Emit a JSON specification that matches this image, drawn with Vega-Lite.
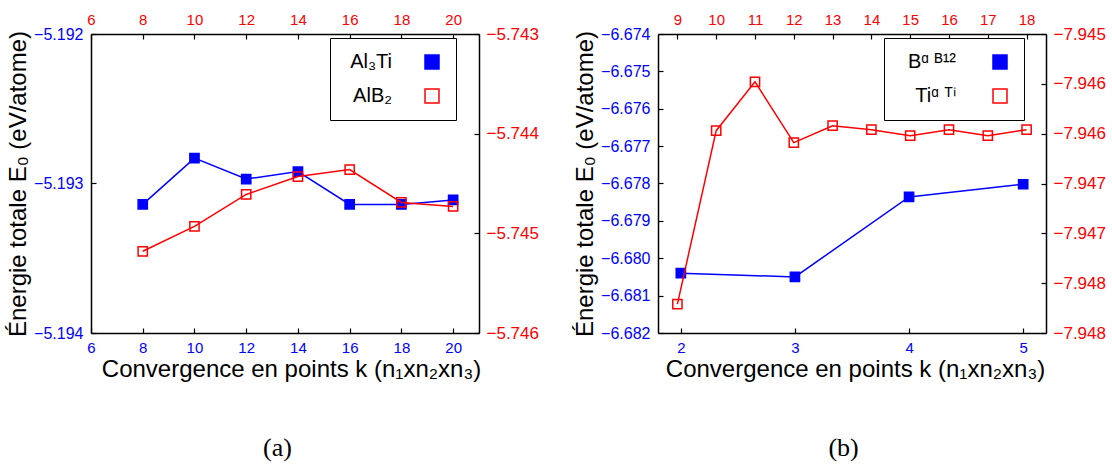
{
  "$schema": "https://vega.github.io/schema/vega-lite/v6.json",
  "padding": {"left": 6, "top": 12, "right": 5, "bottom": 5},
  "background": "white",
  "config": {
    "font": "Liberation Sans",
    "view": {"stroke": null},
    "axis": {
      "grid": false,
      "domainColor": "black",
      "domainWidth": 1.5,
      "tickColor": "black",
      "tickWidth": 1.2,
      "tickSize": -5,
      "labelPadding": 13,
      "labelFont": "Liberation Sans",
      "labelFlush": false,
      "labelOverlap": false,
      "titleColor": "black",
      "titleFont": "Liberation Sans",
      "titleFontWeight": "normal",
      "titleFontSize": 24
    },
    "legend": {
      "orient": "none",
      "labelFontSize": 20,
      "labelColor": "black",
      "labelFont": "Liberation Sans",
      "labelAlign": "right",
      "symbolType": "square",
      "symbolSize": 196,
      "symbolStrokeWidth": 1.5,
      "strokeColor": "black",
      "fillColor": "white",
      "padding": 14,
      "rowPadding": 14,
      "titleOrient": "right",
      "titleFontSize": 20,
      "titlePadding": 0
    },
    "concat": {"spacing": 34}
  },
  "datasets": {
    "a": [
      {"s": "Al₃Ti", "k": 8, "e": -5.19314},
      {"s": "Al₃Ti", "k": 10, "e": -5.19283},
      {"s": "Al₃Ti", "k": 12, "e": -5.19297},
      {"s": "Al₃Ti", "k": 14, "e": -5.19292},
      {"s": "Al₃Ti", "k": 16, "e": -5.19314},
      {"s": "Al₃Ti", "k": 18, "e": -5.19314},
      {"s": "Al₃Ti", "k": 20, "e": -5.19311},
      {"s": "AlB₂", "k": 8, "e": -5.74518},
      {"s": "AlB₂", "k": 10, "e": -5.74493},
      {"s": "AlB₂", "k": 12, "e": -5.74461},
      {"s": "AlB₂", "k": 14, "e": -5.74443},
      {"s": "AlB₂", "k": 16, "e": -5.74436},
      {"s": "AlB₂", "k": 18, "e": -5.74469},
      {"s": "AlB₂", "k": 20, "e": -5.74473}
    ],
    "b": [
      {"s": "Bᵅ ᴮ¹²", "k": 2, "e": -6.6804},
      {"s": "Bᵅ ᴮ¹²", "k": 3, "e": -6.6805},
      {"s": "Bᵅ ᴮ¹²", "k": 4, "e": -6.67836},
      {"s": "Bᵅ ᴮ¹²", "k": 5, "e": -6.67802},
      {"s": "Tiᵅ ᵀⁱ", "k": 9, "e": -7.94771},
      {"s": "Tiᵅ ᵀⁱ", "k": 10, "e": -7.94597},
      {"s": "Tiᵅ ᵀⁱ", "k": 11, "e": -7.94548},
      {"s": "Tiᵅ ᵀⁱ", "k": 12, "e": -7.94609},
      {"s": "Tiᵅ ᵀⁱ", "k": 13, "e": -7.94592},
      {"s": "Tiᵅ ᵀⁱ", "k": 14, "e": -7.94596},
      {"s": "Tiᵅ ᵀⁱ", "k": 15, "e": -7.94602},
      {"s": "Tiᵅ ᵀⁱ", "k": 16, "e": -7.94596},
      {"s": "Tiᵅ ᵀⁱ", "k": 17, "e": -7.94602},
      {"s": "Tiᵅ ᵀⁱ", "k": 18, "e": -7.94596}
    ]
  },
  "hconcat": [
    {
      "width": 388,
      "height": 299,
      "title": {"text": "(a)", "orient": "bottom", "font": "Liberation Serif", "fontSize": 26, "fontWeight": "normal", "color": "black", "offset": 54, "anchor": "middle", "frame": "bounds", "dx": 5},
      "layer": [
        {
          "data": {"name": "a"},
          "transform": [{"filter": "datum.s === 'Al₃Ti'"}],
          "encoding": {
            "x": {"field": "k", "type": "quantitative", "scale": {"domain": [6, 21], "nice": false, "zero": false},
              "axis": {"orient": "bottom", "values": [6, 8, 10, 12, 14, 16, 18, 20], "labelColor": "blue", "labelFontSize": 15, "labelPadding": 12,
                "title": "Convergence en points k (n₁xn₂xn₃)", "titleX": 200, "titlePadding": 2}},
            "y": {"field": "e", "type": "quantitative", "scale": {"domain": [-5.194, -5.192], "nice": false, "zero": false},
              "axis": {"orient": "left", "values": [-5.194, -5.193, -5.192], "format": ".3f", "labelColor": "blue", "labelFontSize": 16,
                "title": "Énergie totale E₀ (eV/atome)", "titlePadding": 3}}
          },
          "layer": [
            {"mark": {"type": "line", "color": "blue", "strokeWidth": 1.5}},
            {"mark": {"type": "point", "shape": "square", "size": 85, "filled": true, "strokeWidth": 1.5, "opacity": 1},
              "encoding": {
                "fill": {"field": "s", "type": "nominal", "scale": {"domain": ["Al₃Ti", "AlB₂"], "range": ["blue", "transparent"]},
                  "legend": {"legendX": 239, "legendY": 4, "title": "\u2003", "labelOffset": -50, "symbolOffset": 78}},
                "stroke": {"field": "s", "type": "nominal", "scale": {"domain": ["Al₃Ti", "AlB₂"], "range": ["blue", "red"]},
                  "legend": {"legendX": 239, "legendY": 4, "title": "\u2003", "labelOffset": -50, "symbolOffset": 78}}
              }}
          ]
        },
        {
          "data": {"name": "a"},
          "transform": [{"filter": "datum.s === 'AlB₂'"}],
          "encoding": {
            "x": {"field": "k", "type": "quantitative", "scale": {"domain": [6, 21], "nice": false, "zero": false},
              "axis": {"orient": "top", "values": [6, 8, 10, 12, 14, 16, 18, 20], "labelColor": "red", "labelFontSize": 15, "labelPadding": 12, "title": null}},
            "y": {"field": "e", "type": "quantitative", "scale": {"domain": [-5.746, -5.743], "nice": false, "zero": false},
              "axis": {"orient": "right", "values": [-5.746, -5.745, -5.744, -5.743], "format": ".3f", "labelColor": "red", "labelFontSize": 17, "labelPadding": 12, "title": null}}
          },
          "layer": [
            {"mark": {"type": "line", "color": "red", "strokeWidth": 1.5}},
            {"mark": {"type": "point", "shape": "square", "size": 85, "filled": true, "strokeWidth": 1.5, "opacity": 1},
              "encoding": {
                "fill": {"field": "s", "type": "nominal"},
                "stroke": {"field": "s", "type": "nominal"}
              }}
          ]
        }
      ],
      "resolve": {"scale": {"x": "independent", "y": "independent"}}
    },
    {
      "width": 388,
      "height": 299,
      "title": {"text": "(b)", "orient": "bottom", "font": "Liberation Serif", "fontSize": 26, "fontWeight": "normal", "color": "black", "offset": 54, "anchor": "middle", "frame": "bounds", "dx": 4},
      "layer": [
        {
          "data": {"name": "b"},
          "transform": [{"filter": "datum.s === 'Bᵅ ᴮ¹²'"}],
          "encoding": {
            "x": {"field": "k", "type": "quantitative", "scale": {"domain": [1.8, 5.2], "nice": false, "zero": false},
              "axis": {"orient": "bottom", "values": [2, 3, 4, 5], "labelColor": "blue", "labelFontSize": 15, "labelPadding": 12,
                "title": "Convergence en points k (n₁xn₂xn₃)", "titleX": 197, "titlePadding": 2}},
            "y": {"field": "e", "type": "quantitative", "scale": {"domain": [-6.682, -6.674], "nice": false, "zero": false},
              "axis": {"orient": "left", "values": [-6.682, -6.681, -6.68, -6.679, -6.678, -6.677, -6.676, -6.675, -6.674], "format": ".3f", "labelColor": "blue", "labelFontSize": 16,
                "title": "Énergie totale E₀ (eV/atome)", "titlePadding": 3}}
          },
          "layer": [
            {"mark": {"type": "line", "color": "blue", "strokeWidth": 1.5}},
            {"mark": {"type": "point", "shape": "square", "size": 85, "filled": true, "strokeWidth": 1.5, "opacity": 1},
              "encoding": {
                "fill": {"field": "s", "type": "nominal", "scale": {"domain": ["Bᵅ ᴮ¹²", "Tiᵅ ᵀⁱ"], "range": ["blue", "transparent"]},
                  "legend": {"legendX": 226, "legendY": 4, "title": "\u2003", "labelOffset": -54, "symbolOffset": 92}},
                "stroke": {"field": "s", "type": "nominal", "scale": {"domain": ["Bᵅ ᴮ¹²", "Tiᵅ ᵀⁱ"], "range": ["blue", "red"]},
                  "legend": {"legendX": 226, "legendY": 4, "title": "\u2003", "labelOffset": -54, "symbolOffset": 92}}
              }}
          ]
        },
        {
          "data": {"name": "b"},
          "transform": [{"filter": "datum.s === 'Tiᵅ ᵀⁱ'"}],
          "encoding": {
            "x": {"field": "k", "type": "quantitative", "scale": {"domain": [8.5, 18.5], "nice": false, "zero": false},
              "axis": {"orient": "top", "values": [9, 10, 11, 12, 13, 14, 15, 16, 17, 18], "labelColor": "red", "labelFontSize": 15, "labelPadding": 12, "title": null}},
            "y": {"field": "e", "type": "quantitative", "scale": {"domain": [-7.948, -7.945], "nice": false, "zero": false},
              "axis": {"orient": "right", "values": [-7.948, -7.9475, -7.947, -7.9465, -7.946, -7.9455, -7.945], "labelExpr": "format(datum.value - 0.0000001, '.3f')", "labelColor": "red", "labelFontSize": 17, "labelPadding": 12, "title": null}}
          },
          "layer": [
            {"mark": {"type": "line", "color": "red", "strokeWidth": 1.5}},
            {"mark": {"type": "point", "shape": "square", "size": 85, "filled": true, "strokeWidth": 1.5, "opacity": 1},
              "encoding": {
                "fill": {"field": "s", "type": "nominal"},
                "stroke": {"field": "s", "type": "nominal"}
              }}
          ]
        }
      ],
      "resolve": {"scale": {"x": "independent", "y": "independent"}}
    }
  ],
  "resolve": {"scale": {"fill": "independent", "stroke": "independent"}, "legend": {"fill": "independent", "stroke": "independent"}}
}
